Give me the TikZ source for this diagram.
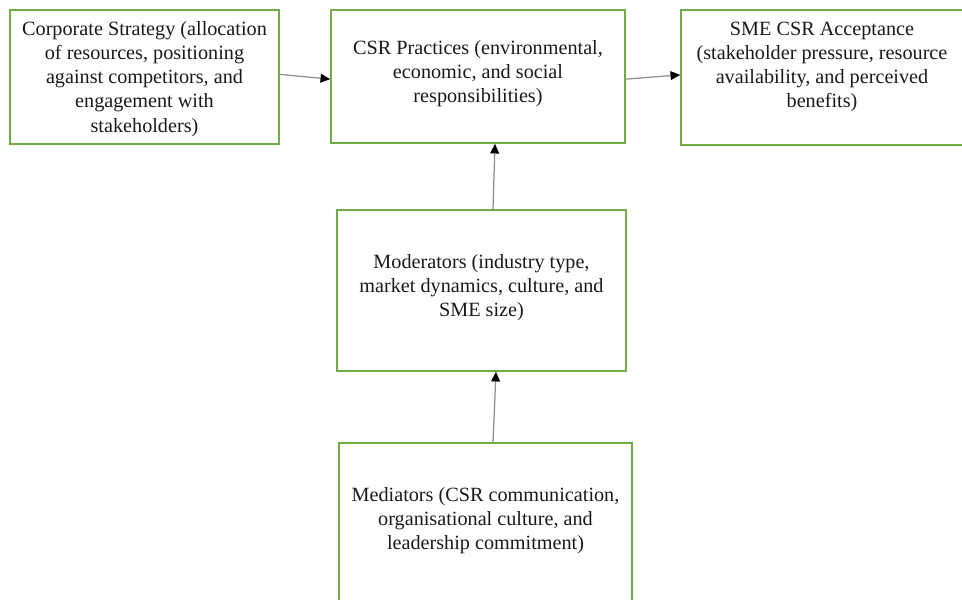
\documentclass[tikz,border=0pt]{standalone}
\usepackage{fontspec}
\setmainfont{Liberation Serif}
\usetikzlibrary{arrows.meta}
\definecolor{boxgreen}{HTML}{70AD47}
\definecolor{linkgray}{HTML}{8C8C8C}

\begin{document}
\begin{tikzpicture}[
    box/.style={draw=boxgreen, line width=0.9pt, inner sep=0pt},
    txt/.style={align=center, font=\fontsize{11.5}{13.7}\selectfont, text=black!90},
    link/.style={draw=linkgray, line width=0.7pt, -{Triangle[length=5.5pt,width=5pt,black]}}
]
    % Page frame (reference is cut off at the right and bottom)
    \useasboundingbox (0,0) rectangle (19.24,-12);
    \clip (0,0) rectangle (19.24,-12);
    % Boxes
    \node[box, minimum width=5.38cm, minimum height=2.68cm] (strategy) at (2.89,-1.54) {};
    \node[box, minimum width=5.88cm, minimum height=2.66cm] (practices) at (9.56,-1.53) {};
    \node[box, minimum width=5.8cm, minimum height=2.7cm] (accept) at (16.52,-1.55) {};
    \node[box, minimum width=5.78cm, minimum height=3.22cm] (moder) at (9.63,-5.81) {};
    \node[box, minimum width=5.86cm, minimum height=3.24cm] (medi) at (9.71,-10.48) {};
    % Texts
    \node[txt] (strategytxt) at (2.89,-1.58) {Corporate Strategy (allocation\\of resources, positioning\\against competitors, and\\engagement with\\stakeholders)};
    \node[txt] (practicestxt) at (9.56,-1.48) {CSR Practices (environmental,\\economic, and social\\responsibilities)};
    \node[txt] (accepttxt) at (16.44,-1.34) {SME CSR Acceptance\\(stakeholder pressure, resource\\availability, and perceived\\benefits)};
    \node[txt] (modertxt) at (9.63,-5.76) {Moderators (industry type,\\market dynamics, culture, and\\SME size)};
    \node[txt] (meditxt) at (9.71,-10.42) {Mediators (CSR communication,\\organisational culture, and\\leadership commitment)};
    % Links
    \draw[link] ([yshift=1.5pt]strategy.east) -- ([yshift=-1.5pt]practices.west);
    \draw[link] ([yshift=-1.5pt]practices.east) -- ([yshift=1.5pt]accept.west);
    \draw[link] ([xshift=0.23cm]moder.north) -- ([xshift=0.34cm]practices.south);
    \draw[link] ([xshift=0.15cm]medi.north) -- ([xshift=0.29cm]moder.south);
\end{tikzpicture}
\end{document}
